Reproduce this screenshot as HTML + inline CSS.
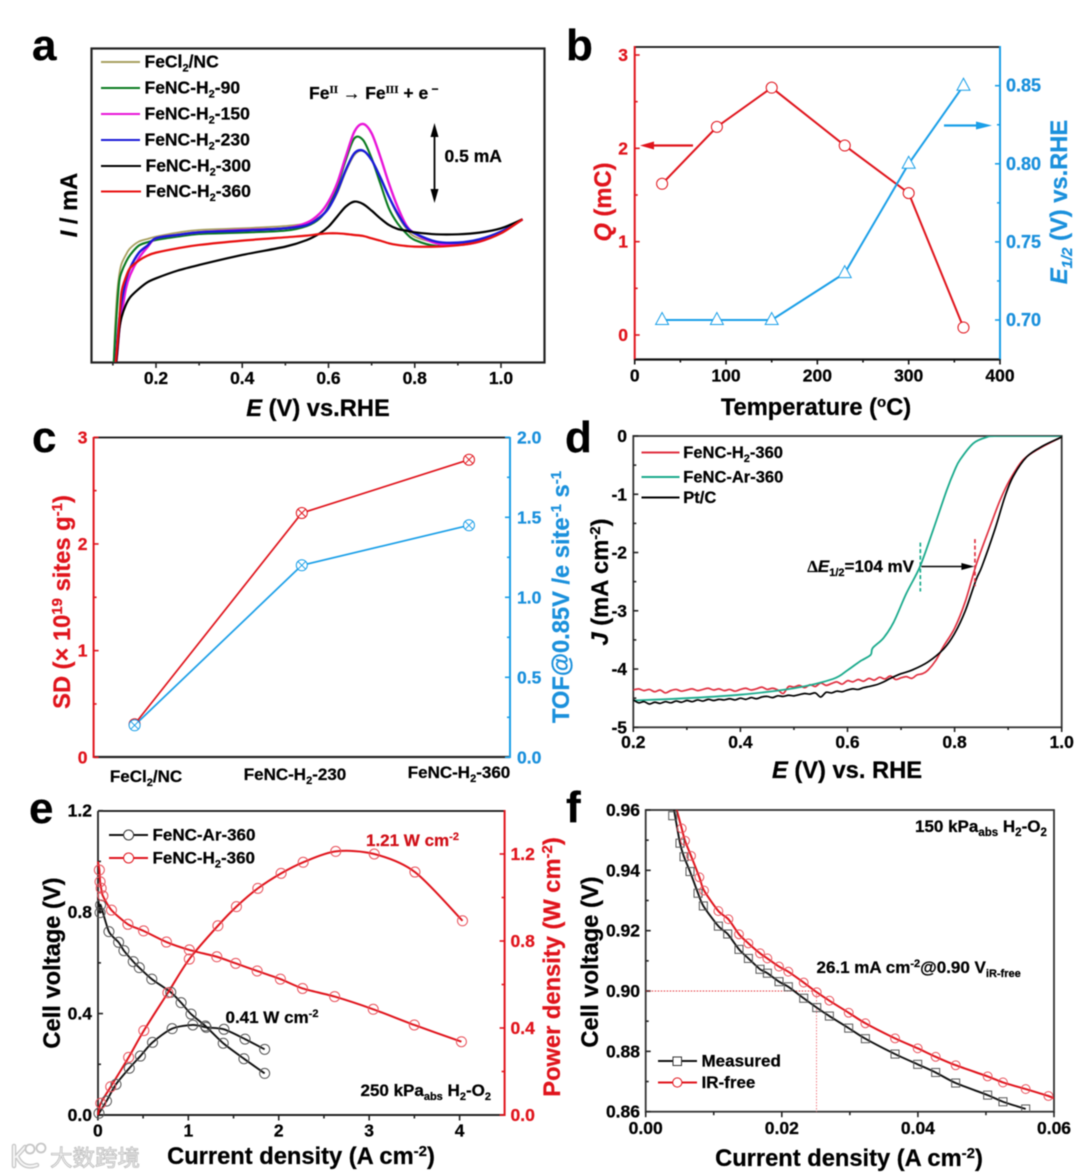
<!DOCTYPE html>
<html lang="en">
<head>
<meta charset="utf-8">
<title>FeNC electrochemical performance figure</title>
<style>
  html,body{margin:0;padding:0;background:#fff;}
  body{width:1080px;height:1176px;overflow:hidden;}
  svg{display:block;filter:blur(0.4px);}
  text{font-family:"Liberation Sans","Noto Sans CJK SC",sans-serif;font-weight:700;stroke:#000;stroke-width:0.25px;}
  .t{font-size:17px;}
  .tk{font-size:17.5px;}
  .lg{font-size:17.5px;}
  .ti{font-size:23.7px;}
  .pl{font-size:44px;}
  .red{fill:#e0141c;stroke:#e0141c;}
  .blue{fill:#1a90dc;stroke:#1a90dc;}
</style>
</head>
<body>
<svg id="fig" xmlns="http://www.w3.org/2000/svg" width="1080" height="1176" viewBox="0 0 1080 1176">
  <rect width="1080" height="1176" fill="#fff"/>
  <defs>
    <clipPath id="ca"><rect x="91" y="48" width="453" height="314"/></clipPath>
    <clipPath id="cd"><rect x="633" y="436" width="429" height="291"/></clipPath>
    <clipPath id="ce"><rect x="90" y="811" width="415" height="310"/></clipPath>
    <clipPath id="cf"><rect x="646" y="810" width="408" height="302"/></clipPath>
  </defs>

  <!-- Panel a -->
  <g id="pa">
    <text class="pl" x="32" y="60">a</text>
    <rect x="91.5" y="48.5" width="453" height="314" fill="none" stroke="#222" stroke-width="2.2"/>
    <g id="pa-ticks"></g>
    <g id="pa-lines" clip-path="url(#ca)"></g>
    <text class="ti" x="318" y="416" text-anchor="middle"><tspan font-style="italic">E</tspan> (V) vs.RHE</text>
    <text class="ti" transform="translate(77,205) rotate(-90)" text-anchor="middle"><tspan font-style="italic">I</tspan> / mA</text>
    <g>
      <line x1="101" x2="140" y1="62" y2="62" stroke="#a8a060" stroke-width="2"/>
      <text class="lg" x="144.5" y="67.5">FeCl<tspan dy="4" font-size="11">2</tspan><tspan dy="-4">/NC</tspan></text>
      <line x1="101" x2="140" y1="88" y2="88" stroke="#0a7a20" stroke-width="2"/>
      <text class="lg" x="144.5" y="93.5">FeNC-H<tspan dy="4" font-size="11">2</tspan><tspan dy="-4">-90</tspan></text>
      <line x1="101" x2="140" y1="114" y2="114" stroke="#e815d8" stroke-width="2"/>
      <text class="lg" x="144.5" y="119.5">FeNC-H<tspan dy="4" font-size="11">2</tspan><tspan dy="-4">-150</tspan></text>
      <line x1="101" x2="140" y1="140" y2="140" stroke="#1a1ad8" stroke-width="2"/>
      <text class="lg" x="144.5" y="145.5">FeNC-H<tspan dy="4" font-size="11">2</tspan><tspan dy="-4">-230</tspan></text>
      <line x1="101" x2="141" y1="166" y2="166" stroke="#000" stroke-width="2"/>
      <text class="lg" x="145.5" y="171.5">FeNC-H<tspan dy="4" font-size="11">2</tspan><tspan dy="-4">-300</tspan></text>
      <line x1="101" x2="141" y1="191.5" y2="191.5" stroke="#e81010" stroke-width="2"/>
      <text class="lg" x="145.5" y="197">FeNC-H<tspan dy="4" font-size="11">2</tspan><tspan dy="-4">-360</tspan></text>
    </g>
    <text class="tk" x="309" y="99">Fe<tspan dy="-6" font-size="11" style="font-family:'Liberation Serif',serif">II</tspan><tspan dy="6"> → Fe</tspan><tspan dy="-6" font-size="11" style="font-family:'Liberation Serif',serif">III</tspan><tspan dy="6"> + e</tspan><tspan dy="-6" font-size="12"> −</tspan></text>
    <g>
      <line x1="434.5" x2="434.5" y1="128" y2="198" stroke="#000" stroke-width="1.8"/>
      <polygon points="434.5,123 430.5,137 438.5,137" fill="#000"/>
      <polygon points="434.5,203 430.5,189 438.5,189" fill="#000"/>
    </g>
    <text class="tk" x="444.5" y="162">0.5 mA</text>
  </g>

  <!-- Panel b -->
  <g id="pb">
    <text class="pl" x="566" y="60">b</text>
    <line x1="634" x2="1000" y1="47" y2="47" stroke="#111" stroke-width="1.8"/>
    <line x1="634" x2="1000" y1="359.5" y2="359.5" stroke="#111" stroke-width="2.2"/>
    <line x1="634.7" x2="634.7" y1="46" y2="360" stroke="#e0141c" stroke-width="2"/>
    <line x1="1000" x2="1000" y1="46" y2="360" stroke="#1a9fe8" stroke-width="2"/>
    <g id="pb-axes"></g>
    <g id="pb-marks"></g>
    <text class="ti" x="816" y="415" text-anchor="middle">Temperature (<tspan dy="-8" font-size="15">o</tspan><tspan dy="8">C)</tspan></text>
    <text class="ti red" transform="translate(611,202) rotate(-90)" text-anchor="middle"><tspan font-style="italic">Q</tspan> (mC)</text>
    <text class="ti blue" transform="translate(1067,202) rotate(-90)" text-anchor="middle"><tspan font-style="italic">E</tspan><tspan dy="5" font-size="15" font-style="italic">1/2</tspan><tspan dy="-5"> (V) vs.RHE</tspan></text>
    <g>
      <line x1="650" x2="693" y1="145.5" y2="145.5" stroke="#e0141c" stroke-width="2.2"/>
      <polygon points="640,145.5 654,141.5 654,149.5" fill="#e0141c"/>
    </g>
    <g>
      <line x1="944" x2="980" y1="125.5" y2="125.5" stroke="#1a9fe8" stroke-width="2.2"/>
      <polygon points="992,125.5 976,121.5 976,129.5" fill="#1a9fe8"/>
    </g>
  </g>

  <!-- Panel c -->
  <g id="pc">
    <text class="pl" x="32" y="452">c</text>
    <line x1="94" x2="510" y1="437.5" y2="437.5" stroke="#111" stroke-width="1.8"/>
    <line x1="94" x2="510" y1="757" y2="757" stroke="#222" stroke-width="2.2"/>
    <line x1="93.6" x2="93.6" y1="437" y2="758" stroke="#e0141c" stroke-width="2"/>
    <line x1="510" x2="510" y1="437" y2="758" stroke="#1a9fe8" stroke-width="2"/>
    <g id="pc-axes"></g>
    <g id="pc-marks"></g>
    <text class="ti red" transform="translate(70,602) rotate(-90)" text-anchor="middle">SD (× 10<tspan dy="-8" font-size="15">19</tspan><tspan dy="8"> sites g</tspan><tspan dy="-8" font-size="15">-1</tspan><tspan dy="8">)</tspan></text>
    <text class="ti blue" transform="translate(569,597) rotate(-90)" text-anchor="middle">TOF@0.85V /e site<tspan dy="-8" font-size="15">-1</tspan><tspan dy="8"> s</tspan><tspan dy="-8" font-size="15">-1</tspan></text>
    <text class="t" x="146" y="782" text-anchor="middle">FeCl<tspan dy="4" font-size="11">2</tspan><tspan dy="-4">/NC</tspan></text>
    <text class="t" x="295" y="780" text-anchor="middle">FeNC-H<tspan dy="4" font-size="11">2</tspan><tspan dy="-4">-230</tspan></text>
    <text class="t" x="459" y="778" text-anchor="middle">FeNC-H<tspan dy="4" font-size="11">2</tspan><tspan dy="-4">-360</tspan></text>
  </g>

  <!-- Panel d -->
  <g id="pd">
    <text class="pl" x="565" y="452">d</text>
    <rect x="633.3" y="436" width="428.4" height="291.3" fill="none" stroke="#333" stroke-width="1.8"/>
    <g id="pd-axes"></g>
    <g id="pd-lines" clip-path="url(#cd)"></g>
    <g id="pd-annot"></g>
    <text class="t" x="914" y="572" text-anchor="end"><tspan style="font-family:'Liberation Serif',serif">Δ</tspan><tspan font-style="italic">E</tspan><tspan dy="4" font-size="11">1/2</tspan><tspan dy="-4">=104 mV</tspan></text>
    <text class="ti" x="847" y="778" text-anchor="middle"><tspan font-style="italic">E</tspan>  (V) vs. RHE</text>
    <text class="ti" transform="translate(608,582) rotate(-90)" text-anchor="middle"><tspan font-style="italic">J</tspan> (mA cm<tspan dy="-8" font-size="15">-2</tspan><tspan dy="8">)</tspan></text>
    <g>
      <line x1="641.5" x2="679.5" y1="452.5" y2="452.5" stroke="#e03040" stroke-width="1.9"/>
      <text class="t" x="683.3" y="458" style="font-size:16.5px">FeNC-H<tspan dy="4" font-size="11">2</tspan><tspan dy="-4">-360</tspan></text>
      <line x1="641.5" x2="679.5" y1="477" y2="477" stroke="#1aaa8c" stroke-width="1.9"/>
      <text class="t" x="683.3" y="482.5" style="font-size:16.5px">FeNC-Ar-360</text>
      <line x1="641.5" x2="679.5" y1="497.5" y2="497.5" stroke="#000" stroke-width="1.9"/>
      <text class="t" x="683.3" y="503" style="font-size:16.5px">Pt/C</text>
    </g>
  </g>

  <!-- Panel e -->
  <g id="pe">
    <text class="pl" x="29" y="823">e</text>
    <line x1="98" x2="505" y1="811" y2="811" stroke="#111" stroke-width="1.8"/>
    <line x1="98" x2="505" y1="1115" y2="1115" stroke="#222" stroke-width="2"/>
    <line x1="98" x2="98" y1="811" y2="1115" stroke="#222" stroke-width="1.8"/>
    <line x1="504.6" x2="504.6" y1="810" y2="1116" stroke="#e0141c" stroke-width="2"/>
    <g id="pe-axes"></g>
    <g id="pe-marks" clip-path="url(#ce)"></g>
    <text class="ti" x="301" y="1164" text-anchor="middle">Current density (A cm<tspan dy="-8" font-size="15">-2</tspan><tspan dy="8">)</tspan></text>
    <text class="ti" transform="translate(60,963) rotate(-90)" text-anchor="middle">Cell voltage (V)</text>
    <text class="ti red" transform="translate(560,967) rotate(-90)" text-anchor="middle">Power density (W cm<tspan dy="-8" font-size="15">-2</tspan><tspan dy="8">)</tspan></text>
    <g>
      <line x1="109" x2="148" y1="835" y2="835" stroke="#111" stroke-width="1.9"/>
      <circle cx="128.6" cy="835" r="5" fill="#fff" stroke="#333" stroke-width="1"/>
      <text class="t" x="152.5" y="840.5">FeNC-Ar-360</text>
      <line x1="109" x2="148" y1="858" y2="858" stroke="#e0141c" stroke-width="1.9"/>
      <circle cx="128.6" cy="858" r="5" fill="#fff" stroke="#e0141c" stroke-width="1"/>
      <text class="t" x="152.5" y="863.5">FeNC-H<tspan dy="4" font-size="11">2</tspan><tspan dy="-4">-360</tspan></text>
    </g>
    <text class="t red" x="366" y="846" style="fill:#d01018;stroke:#d01018">1.21 W cm<tspan dy="-6" font-size="11">-2</tspan></text>
    <text class="t" x="225.5" y="1023">0.41 W cm<tspan dy="-6" font-size="11">-2</tspan></text>
    <text class="t" x="360.5" y="1096">250 kPa<tspan dy="4" font-size="11">abs</tspan><tspan dy="-4"> H</tspan><tspan dy="4" font-size="11">2</tspan><tspan dy="-4">-O</tspan><tspan dy="4" font-size="11">2</tspan></text>
  </g>

  <!-- Panel f -->
  <g id="pf">
    <text class="pl" x="566" y="822">f</text>
    <rect x="645.7" y="810" width="408.3" height="301.7" fill="none" stroke="#333" stroke-width="1.8"/>
    <g id="pf-axes"></g>
    <g id="pf-marks" clip-path="url(#cf)"></g>
    <text class="ti" x="849" y="1166" text-anchor="middle">Current density (A cm<tspan dy="-8" font-size="15">-2</tspan><tspan dy="8">)</tspan></text>
    <text class="ti" transform="translate(598,962) rotate(-90)" text-anchor="middle">Cell voltage (V)</text>
    <g>
      <line x1="658" x2="697" y1="1061" y2="1061" stroke="#111" stroke-width="1.9"/>
      <rect x="673" y="1057" width="8.5" height="8.5" fill="#fff" stroke="#333" stroke-width="1"/>
      <text class="t" x="701.5" y="1066.5">Measured</text>
      <line x1="658" x2="697" y1="1082.5" y2="1082.5" stroke="#e0141c" stroke-width="1.9"/>
      <circle cx="677.3" cy="1082.5" r="4.6" fill="#fff" stroke="#e0141c" stroke-width="1"/>
      <text class="t" x="701.5" y="1088">IR-free</text>
    </g>
    <text class="t" x="915" y="832">150 kPa<tspan dy="4" font-size="11.5">abs</tspan><tspan dy="-4"> H</tspan><tspan dy="4" font-size="11.5">2</tspan><tspan dy="-4">-O</tspan><tspan dy="4" font-size="11.5">2</tspan></text>
    <text class="t" x="816.5" y="973">26.1 mA cm<tspan dy="-6" font-size="11">-2</tspan><tspan dy="6">@0.90 V</tspan><tspan dy="4" font-size="11">iR-free</tspan></text>
  </g>

  <!-- Watermark -->
  <g>
    <path d="M14 1146 L14 1166 M16 1157 L25 1147 M17 1156 Q23 1170 37 1165" fill="none" stroke="#c6c6c6" stroke-width="4.5" stroke-linecap="round"/>
    <path d="M14 1146 L14 1166 M16 1157 L25 1147 M17 1156 Q23 1170 37 1165" fill="none" stroke="#f6f6f6" stroke-width="2" stroke-linecap="round"/>
    <circle cx="30" cy="1149" r="4.5" fill="#fff" stroke="#c6c6c6" stroke-width="1.8"/>
    <circle cx="41" cy="1148" r="4.5" fill="#fff" stroke="#c6c6c6" stroke-width="1.8"/>
    <text x="50" y="1166" font-size="22.5" fill="#f2f2f2" style="stroke:#bdbdbd;stroke-width:0.8px;font-weight:400;font-family:'Liberation Sans','Noto Sans CJK SC',sans-serif">大数跨境</text>
  </g>
</svg>

<script>
/* ---------- Panel a data (current in arbitrary units, no printed y scale) ---------- */
const aE = [0.102,0.105,0.11,0.115,0.12,0.13,0.14,0.16,0.18,0.2,0.25,0.3,0.4,0.5,0.55,0.58,0.6,0.62,0.64,0.66,0.68,0.7,0.72,0.74,0.76,0.78,0.8,0.85,0.9,0.95,1.0,1.05];
const aFeCl2 = [0,100,210,265,295,322,342,362,370,377,389,397,402,409,417,437,462,507,572,622,634,607,557,497,442,402,377,359,359,367,392,429];
const aH90   = [0,67,170,245,270,300,322,350,360,367,377,385,389,395,409,432,467,527,607,672,667,612,537,462,417,387,367,349,355,365,391,429];
const aH150  = [-80,-30,25,100,140,220,262,312,345,372,382,390,397,402,419,447,482,537,617,692,715,687,617,537,467,412,387,357,352,362,389,429];
const aH230  = [-60,-20,60,130,180,245,283,328,350,372,382,390,395,402,412,435,462,512,577,627,635,607,555,497,447,407,387,362,359,369,392,429];
const aH300  = [-80,-40,30,100,135,172,195,220,240,252,275,292,322,347,367,387,407,437,467,482,475,455,432,412,400,395,390,384,384,389,402,429];
const aH360  = [-60,-20,50,127,210,255,283,305,320,329,342,352,365,375,380,385,387,387,385,382,379,372,365,357,352,349,347,347,351,362,387,429];
const aXTicks = [0.2,0.4,0.6,0.8,1.0];
const aXMinor = [0.1,0.3,0.5,0.7,0.9];

/* ---------- Panel b data ---------- */
const bTemp = [30,90,150,230,300,360];
const bQ = [1.62,2.23,2.65,2.03,1.52,0.08];
const bE = [0.70,0.70,0.70,0.73,0.80,0.85];
const bXTicks = [0,100,200,300,400];
const bXMinor = [50,150,250,350];
const bQTicks = [0,1,2,3];
const bQMinor = [0.5,1.5,2.5];
const bETicks = ['0.70','0.75','0.80','0.85'];
const bEMinor = [0.725,0.775,0.825];

/* ---------- Panel c data ---------- */
const cCategories = ['FeCl2/NC','FeNC-H2-230','FeNC-H2-360'];
const cSD = [0.31,2.29,2.79];
const cTOF = [0.20,1.20,1.45];
const cSDTicks = [0,1,2,3];
const cSDMinor = [0.5,1.5,2.5];
const cTOFTicks = ['0.0','0.5','1.0','1.5','2.0'];
const cTOFMinor = [0.25,0.75,1.25,1.75];

/* ---------- Panel d data ---------- */
const dH2E = [0.2,0.21,0.22,0.23,0.24,0.25,0.26,0.27,0.28,0.29,0.3,0.31,0.32,0.33,0.34,0.35,0.36,0.37,0.38,0.39,0.4,0.41,0.42,0.43,0.44,0.45,0.46,0.47,0.48,0.49,0.5,0.51,0.52,0.53,0.54,0.55,0.56,0.57,0.58,0.59,0.6,0.61,0.62,0.63,0.64,0.65,0.66,0.67,0.68,0.69,0.7,0.71,0.72,0.73,0.74,0.75,0.765,0.78,0.8,0.82,0.841,0.866,0.885,0.903,0.928,0.959,0.997,1.0];
const dH2J = [-4.36,-4.34,-4.37,-4.35,-4.39,-4.36,-4.41,-4.37,-4.35,-4.38,-4.36,-4.34,-4.37,-4.35,-4.33,-4.36,-4.34,-4.37,-4.35,-4.38,-4.35,-4.33,-4.36,-4.34,-4.31,-4.35,-4.33,-4.36,-4.42,-4.3,-4.31,-4.28,-4.32,-4.27,-4.3,-4.24,-4.28,-4.25,-4.22,-4.26,-4.2,-4.22,-4.18,-4.21,-4.16,-4.19,-4.14,-4.17,-4.12,-4.18,-4.15,-4.13,-4.16,-4.1,-4.08,-4.02,-3.85,-3.6,-3.3,-2.84,-2.19,-1.56,-1.1,-0.755,-0.41,-0.21,-0.03,-0.01];
const dArE = [0.2,0.3,0.4,0.5,0.573,0.6,0.623,0.643,0.647,0.667,0.686,0.71,0.7354,0.76,0.7853,0.8,0.81,0.835,0.86,0.88,1.0];
const dArJ = [-4.54,-4.5,-4.44,-4.33,-4.17,-4.02,-3.87,-3.76,-3.64,-3.47,-3.2,-2.7,-2.24,-1.61,-0.93,-0.59,-0.41,-0.125,-0.02,0,0];
const dPtE = [0.2,0.21,0.22,0.23,0.24,0.25,0.26,0.27,0.28,0.29,0.3,0.31,0.32,0.33,0.34,0.35,0.36,0.37,0.38,0.39,0.4,0.41,0.42,0.43,0.44,0.45,0.46,0.47,0.48,0.49,0.5,0.51,0.52,0.53,0.54,0.55,0.56,0.57,0.58,0.59,0.6,0.61,0.62,0.63,0.64,0.65,0.66,0.67,0.68,0.7,0.72,0.75,0.78,0.8,0.82,0.84,0.851,0.875,0.894,0.909,0.935,0.965,0.997,1.0];
const dPtJ = [-4.53,-4.58,-4.56,-4.6,-4.57,-4.59,-4.56,-4.58,-4.55,-4.57,-4.54,-4.56,-4.53,-4.55,-4.52,-4.54,-4.52,-4.53,-4.51,-4.53,-4.5,-4.52,-4.49,-4.51,-4.48,-4.47,-4.49,-4.46,-4.47,-4.45,-4.46,-4.44,-4.42,-4.43,-4.41,-4.48,-4.4,-4.41,-4.38,-4.39,-4.36,-4.34,-4.35,-4.32,-4.3,-4.28,-4.25,-4.21,-4.16,-4.08,-4.02,-3.88,-3.65,-3.39,-3.0,-2.47,-2.24,-1.61,-1.04,-0.7,-0.355,-0.17,-0.03,-0.01];
const dXTicks = ['0.2','0.4','0.6','0.8','1.0'];
const dXMinor = [0.3,0.5,0.7,0.9];
const dYTicks = [0,-1,-2,-3,-4,-5];
const dYMinor = [-0.5,-1.5,-2.5,-3.5,-4.5];

/* ---------- Panel e data ---------- */
const eArVJ = [0,0.024,0.03,0.122,0.229,0.288,0.391,0.458,0.596,0.806,0.92,1.03,1.189,1.386,1.615,1.844];
const eArV  = [0.86,0.798,0.828,0.723,0.681,0.648,0.605,0.581,0.536,0.484,0.443,0.398,0.351,0.283,0.222,0.164];
const eArPJ = [0,0.012,0.095,0.2,0.347,0.47,0.604,0.821,1.05,1.197,1.394,1.627,1.844];
const eArP  = [0,0.008,0.064,0.141,0.215,0.271,0.334,0.397,0.414,0.403,0.394,0.349,0.302];
const eH2VJ = [0,0.016,0.024,0.036,0.055,0.15,0.332,0.505,0.758,1.011,1.315,1.524,1.761,2.018,2.263,2.618,3.045,3.499,4.02];
const eH2V  = [1.0,0.966,0.92,0.894,0.864,0.808,0.752,0.726,0.682,0.651,0.624,0.598,0.568,0.536,0.499,0.467,0.417,0.355,0.289];
const eH2PJ = [0,0.032,0.142,0.34,0.508,0.774,1.011,1.327,1.532,1.769,2.026,2.27,2.63,3.056,3.506,4.032];
const eH2P  = [0,0.054,0.13,0.265,0.388,0.562,0.717,0.87,0.958,1.042,1.111,1.162,1.212,1.2,1.117,0.893];
const eXTicks = [0,1,2,3,4];
const eXMinor = [0.5,1.5,2.5,3.5];
const eVTicks = ['0.0','0.4','0.8','1.2'];
const eVMinor = [0.2,0.6,1.0];
const ePTicks = ['0.0','0.4','0.8','1.2'];
const ePMinor = [0.2,0.6,1.0];

/* ---------- Panel f data ---------- */
const fMeasJ = [0.00397,0.00504,0.00563,0.00651,0.00769,0.00847,0.01068,0.01205,0.01371,0.01509,0.0168,0.01788,0.01959,0.02096,0.02322,0.02513,0.02699,0.02983,0.03228,0.03664,0.03997,0.04261,0.04555,0.05025,0.0525,0.05584];
const fMeasV = [0.9581,0.949,0.9445,0.9396,0.9324,0.9282,0.9215,0.9189,0.9138,0.9108,0.9072,0.9059,0.9031,0.9014,0.8976,0.8945,0.8917,0.8877,0.8842,0.8791,0.8757,0.873,0.8695,0.8655,0.8633,0.8609];
const fFreeJ = [0.00529,0.00578,0.00666,0.00789,0.00857,0.01068,0.01215,0.01371,0.01509,0.0168,0.01788,0.01959,0.02096,0.02322,0.02513,0.02699,0.02983,0.03228,0.03664,0.03997,0.04261,0.04555,0.05025,0.0525,0.05584,0.05918];
const fFreeV = [0.9539,0.9498,0.9448,0.9377,0.9333,0.9265,0.9238,0.9188,0.9158,0.9125,0.9108,0.9081,0.9064,0.9028,0.8996,0.8968,0.8928,0.8893,0.8843,0.881,0.8782,0.8754,0.8717,0.8697,0.8675,0.8652];
const fXTicks = ['0.00','0.02','0.04','0.06'];
const fXMinor = [0.01,0.03,0.05];
const fYTicks = ['0.86','0.88','0.90','0.92','0.94','0.96'];
const fYMinor = [0.87,0.89,0.91,0.93,0.95];
const fRefV = 0.90;
const fRefJ = 0.0251;

const SVGNS = 'http://www.w3.org/2000/svg';
const RED = '#e0141c', BLUE = '#1a9fe8', BLUETXT = '#1a90dc';

function add(parent, tag, attrs, name) {
  const el = document.createElementNS(SVGNS, tag);
  for (const k in attrs) el.setAttribute(k, attrs[k]);
  
  
  parent.appendChild(el);
  return el;
}
function scale(d0, d1, r0, r1) { return v => r0 + (v - d0) / (d1 - d0) * (r1 - r0); }
function smooth(xs, ys, X, Y, k) {
  const p = xs.map((x, i) => [X(x), Y(ys[i])]);
  const t = k === undefined ? 0.16 : k;
  let d = 'M' + p[0][0].toFixed(2) + ' ' + p[0][1].toFixed(2);
  for (let i = 0; i < p.length - 1; i++) {
    const a = p[Math.max(i - 1, 0)], b = p[i], c = p[i + 1], e = p[Math.min(i + 2, p.length - 1)];
    d += 'C' + (b[0] + (c[0] - a[0]) * t).toFixed(2) + ' ' + (b[1] + (c[1] - a[1]) * t).toFixed(2) + ' ' +
         (c[0] - (e[0] - b[0]) * t).toFixed(2) + ' ' + (c[1] - (e[1] - b[1]) * t).toFixed(2) + ' ' +
         c[0].toFixed(2) + ' ' + c[1].toFixed(2);
  }
  return d;
}
function poly(xs, ys, X, Y) { return xs.map((x, i) => X(x).toFixed(2) + ',' + Y(ys[i]).toFixed(2)).join(' '); }
function line(g, xs, ys, X, Y, color, width, name, k) {
  return add(g, 'path', { d: smooth(xs, ys, X, Y, k), fill: 'none', stroke: color, 'stroke-width': width, 'stroke-linejoin': 'round' }, name);
}
function vTicks(g, vals, X, y0, len, color, name) {
  vals.forEach(v => { add(g, 'line', { x1: X(+v), x2: X(+v), y1: y0, y2: y0 + len, stroke: color, 'stroke-width': 1.6 }, name); });
}
function hTicks(g, vals, Y, x0, len, color, name) {
  vals.forEach(v => { add(g, 'line', { y1: Y(+v), y2: Y(+v), x1: x0, x2: x0 + len, stroke: color, 'stroke-width': 1.6 }, name); });
}
function labelsX(g, vals, X, y, name) {
  vals.forEach(v => { add(g, 'text', { x: X(+v), y: y, 'text-anchor': 'middle', class: 'tk' }, name).textContent = v; });
}
function labelsY(g, vals, Y, x, anchor, color, name, size) {
  vals.forEach(v => { add(g, 'text', { x: x, y: Y(+v) + 6, 'text-anchor': anchor, class: 'tk', style: 'fill:' + color + ';stroke:' + color + (size ? ';font-size:' + size + 'px' : '') }, name).textContent = v; });
}
function circles(g, xs, ys, X, Y, r, color, fill, name) {
  xs.forEach((x, i) => { add(g, 'circle', { cx: X(x), cy: Y(ys[i]), r: r, fill: fill, stroke: color, 'stroke-width': 1 }, name); });
}

/* ===== Panel a ===== */
(function () {
  const X = scale(0.2, 1.0, 156, 501);
  const Y = scale(0, 942, 362.3, 48.3);
  const tg = document.getElementById('pa-ticks');
  vTicks(tg, aXTicks, X, 362, 6, '#222', 'x-major-tick-a');
  vTicks(tg, aXMinor, X, 362, 3.5, '#222', 'x-minor-tick-a');
  labelsX(tg, aXTicks.map(v => v.toFixed(1)), X, 384, 'x-tick-label-a');
  const g = document.getElementById('pa-lines');
  line(g, aE, aFeCl2, X, Y, '#a8a060', 1.8, 'curve-fecl2');
  line(g, aE, aH90, X, Y, '#0a7a20', 2.1, 'curve-h2-90');
  line(g, aE, aH150, X, Y, '#e815d8', 2.4, 'curve-h2-150');
  line(g, aE, aH230, X, Y, '#1a1ad8', 2.4, 'curve-h2-230');
  line(g, aE, aH300, X, Y, '#000', 2.2, 'curve-h2-300');
  line(g, aE, aH360, X, Y, '#e81010', 2.2, 'curve-h2-360');
})();

/* ===== Panel b ===== */
(function () {
  const X = scale(0, 400, 634.7, 1000);
  const YQ = scale(0, 3, 335, 55);
  const YE = scale(0.70, 0.85, 320, 85.7);
  const a = document.getElementById('pb-axes');
  vTicks(a, bXTicks, X, 359, 5.5, '#111', 'x-major-tick-b');
  vTicks(a, bXMinor, X, 359, 3.5, '#111', 'x-minor-tick-b');
  labelsX(a, bXTicks.map(String), X, 381.5, 'x-tick-label-b');
  hTicks(a, bQTicks, YQ, 634.7, 5, RED, 'left-major-tick-b');
  hTicks(a, bQMinor, YQ, 634.7, 3, RED, 'left-minor-tick-b');
  labelsY(a, bQTicks.map(String), YQ, 628, 'end', '#e0141c', 'left-tick-label-b');
  hTicks(a, bETicks, YE, 1000, -5, BLUE, 'right-major-tick-b');
  hTicks(a, bEMinor, YE, 1000, -3, BLUE, 'right-minor-tick-b');
  labelsY(a, bETicks, YE, 1006, 'start', BLUETXT, 'right-tick-label-b', 18);
  const g = document.getElementById('pb-marks');
  add(g, 'polyline', { points: poly(bTemp, bQ, X, YQ), fill: 'none', stroke: RED, 'stroke-width': 2 }, 'series-q-line');
  add(g, 'polyline', { points: poly(bTemp, bE, X, YE), fill: 'none', stroke: BLUE, 'stroke-width': 2 }, 'series-e12-line');
  circles(g, bTemp, bQ, X, YQ, 5.5, RED, '#fff', 'q-point');
  bTemp.forEach((t, i) => {
    const cx = X(t), cy = YE(bE[i]);
    add(g, 'polygon', { points: cx + ',' + (cy - 7.5) + ' ' + (cx - 6.5) + ',' + (cy + 4.5) + ' ' + (cx + 6.5) + ',' + (cy + 4.5), fill: '#fff', stroke: BLUE, 'stroke-width': 1 }, 'e12-point');
  });
})();

/* ===== Panel c ===== */
(function () {
  const X = scale(0, 2, 134.6, 469);
  const YL = scale(0, 3, 757.3, 437.3);
  const YR = scale(0, 2, 757.3, 437.3);
  const idx = cCategories.map((c, i) => i);
  const a = document.getElementById('pc-axes');
  hTicks(a, cSDTicks, YL, 93.6, 5, RED, 'left-major-tick-c');
  hTicks(a, cSDMinor, YL, 93.6, 3, RED, 'left-minor-tick-c');
  labelsY(a, cSDTicks.map(String), YL, 87.5, 'end', '#e0141c', 'left-tick-label-c');
  hTicks(a, cTOFTicks, YR, 510, -5, BLUE, 'right-major-tick-c');
  hTicks(a, cTOFMinor, YR, 510, -3, BLUE, 'right-minor-tick-c');
  labelsY(a, cTOFTicks, YR, 517, 'start', BLUETXT, 'right-tick-label-c');
  const g = document.getElementById('pc-marks');
  add(g, 'polyline', { points: poly(idx, cSD, X, YL), fill: 'none', stroke: RED, 'stroke-width': 1.7 }, 'series-sd-line');
  add(g, 'polyline', { points: poly(idx, cTOF, X, YR), fill: 'none', stroke: BLUE, 'stroke-width': 1.7 }, 'series-tof-line');
  function cross(vals, Y, color, name) {
    idx.forEach(i => {
      const cx = X(i), cy = Y(vals[i]);
      const m = add(g, 'g', {}, name);
      add(m, 'circle', { cx: cx, cy: cy, r: 5.5, fill: '#fff', stroke: color, 'stroke-width': 1 }, name + '-ring');
      add(m, 'path', { d: 'M' + (cx - 4) + ' ' + (cy - 4) + 'L' + (cx + 4) + ' ' + (cy + 4) + 'M' + (cx + 4) + ' ' + (cy - 4) + 'L' + (cx - 4) + ' ' + (cy + 4), stroke: color, 'stroke-width': 1, fill: 'none' }, name + '-cross');
    });
  }
  cross(cSD, YL, RED, 'sd-point');
  cross(cTOF, YR, BLUE, 'tof-point');
})();

/* ===== Panel d ===== */
(function () {
  const X = scale(0.2, 1.0, 633.3, 1061.7);
  const Y = scale(0, -5, 436, 727.3);
  const a = document.getElementById('pd-axes');
  vTicks(a, dXTicks, X, 727, 5, '#222', 'x-major-tick-d');
  vTicks(a, dXMinor, X, 727, 3, '#222', 'x-minor-tick-d');
  labelsX(a, dXTicks, X, 748, 'x-tick-label-d');
  hTicks(a, dYTicks, Y, 633.3, 5, '#222', 'y-major-tick-d');
  hTicks(a, dYMinor, Y, 633.3, 3, '#222', 'y-minor-tick-d');
  labelsY(a, dYTicks.map(String), Y, 627, 'end', '#000', 'y-tick-label-d');
  const g = document.getElementById('pd-lines');
  line(g, dH2E, dH2J, X, Y, '#e03040', 1.7, 'curve-fenc-h2-360');
  line(g, dArE, dArJ, X, Y, '#1aaa8c', 1.8, 'curve-fenc-ar-360');
  line(g, dPtE, dPtJ, X, Y, '#000', 1.7, 'curve-pt-c');
  const n = document.getElementById('pd-annot');
  add(n, 'line', { x1: X(0.736), x2: X(0.736), y1: Y(-1.83), y2: Y(-2.67), stroke: '#1aaa8c', 'stroke-width': 1.7, 'stroke-dasharray': '4 2.5' }, 'half-wave-marker-ar');
  add(n, 'line', { x1: X(0.838), x2: X(0.838), y1: Y(-1.77), y2: Y(-2.58), stroke: '#e03040', 'stroke-width': 1.7, 'stroke-dasharray': '4 2.5' }, 'half-wave-marker-h2');
  add(n, 'line', { x1: X(0.738), x2: X(0.825), y1: Y(-2.24), y2: Y(-2.24), stroke: '#000', 'stroke-width': 1.6 }, 'delta-arrow-shaft');
  const ax = X(0.837), ay = Y(-2.24);
  add(n, 'polygon', { points: ax + ',' + ay + ' ' + (ax - 13) + ',' + (ay - 3.5) + ' ' + (ax - 13) + ',' + (ay + 3.5), fill: '#000' }, 'delta-arrow-head');
})();

/* ===== Panel e ===== */
(function () {
  const X = scale(0, 4, 97.9, 459.6);
  const YV = scale(0, 1.2, 1115, 810.7);
  const YP = scale(0, 1.2, 1115, 854);
  const a = document.getElementById('pe-axes');
  vTicks(a, eXTicks, X, 1115, 5.5, '#222', 'x-major-tick-e');
  vTicks(a, eXMinor, X, 1115, 3.5, '#222', 'x-minor-tick-e');
  labelsX(a, eXTicks.map(String), X, 1136.5, 'x-tick-label-e');
  hTicks(a, eVTicks, YV, 98, 5, '#222', 'left-major-tick-e');
  hTicks(a, eVMinor, YV, 98, 3, '#222', 'left-minor-tick-e');
  labelsY(a, eVTicks, YV, 92, 'end', '#000', 'left-tick-label-e');
  hTicks(a, ePTicks, YP, 504.6, -5, RED, 'right-major-tick-e');
  hTicks(a, ePMinor, YP, 504.6, -3, RED, 'right-minor-tick-e');
  labelsY(a, ePTicks, YP, 510.5, 'start', '#e0141c', 'right-tick-label-e');
  const g = document.getElementById('pe-marks');
  line(g, eArVJ, eArV, X, YV, '#111', 1.9, 'curve-ar-voltage', 0.12);
  line(g, eArPJ, eArP, X, YP, '#111', 1.9, 'curve-ar-power', 0.14);
  line(g, eH2VJ, eH2V, X, YV, RED, 2, 'curve-h2-voltage', 0.12);
  line(g, eH2PJ, eH2P, X, YP, RED, 2, 'curve-h2-power', 0.15);
  circles(g, eArVJ.slice(1), eArV.slice(1), X, YV, 5, '#555', 'none', 'ar-voltage-point');
  circles(g, eArPJ.slice(1), eArP.slice(1), X, YP, 5, '#555', 'none', 'ar-power-point');
  circles(g, eH2VJ.slice(1), eH2V.slice(1), X, YV, 5, '#e8505a', 'none', 'h2-voltage-point');
  circles(g, eH2PJ.slice(1), eH2P.slice(1), X, YP, 5, '#e8505a', 'none', 'h2-power-point');
})();

/* ===== Panel f ===== */
(function () {
  const X = scale(0, 0.06, 645.7, 1054);
  const Y = scale(0.96, 0.86, 810, 1111.7);
  const a = document.getElementById('pf-axes');
  vTicks(a, fXTicks, X, 1111.7, 5.5, '#222', 'x-major-tick-f');
  vTicks(a, fXMinor, X, 1111.7, 3.5, '#222', 'x-minor-tick-f');
  labelsX(a, fXTicks, X, 1134, 'x-tick-label-f');
  hTicks(a, fYTicks, Y, 645.7, 5, '#222', 'y-major-tick-f');
  hTicks(a, fYMinor, Y, 645.7, 3, '#222', 'y-minor-tick-f');
  labelsY(a, fYTicks, Y, 640, 'end', '#000', 'y-tick-label-f');
  const g = document.getElementById('pf-marks');
  add(g, 'line', { x1: X(0), x2: X(fRefJ), y1: Y(fRefV), y2: Y(fRefV), stroke: '#e0141c', 'stroke-width': 0.9, 'stroke-dasharray': '1.5 1.5' }, 'reference-line-voltage');
  add(g, 'line', { x1: X(fRefJ), x2: X(fRefJ), y1: Y(fRefV), y2: Y(0.86), stroke: '#f07078', 'stroke-width': 0.9, 'stroke-dasharray': '1.5 1.5' }, 'reference-line-current');
  line(g, [0.00416].concat(fMeasJ.slice(1)), [0.96].concat(fMeasV.slice(1)), X, Y, '#111', 1.9, 'curve-measured', 0.13);
  line(g, [0.00456].concat(fFreeJ).concat([0.06]), [0.96].concat(fFreeV).concat([0.8644]), X, Y, RED, 2, 'curve-ir-free', 0.13);
  fMeasJ.forEach((j, i) => {
    add(g, 'rect', { x: X(j) - 4, y: Y(fMeasV[i]) - 4, width: 8, height: 8, fill: 'none', stroke: '#555', 'stroke-width': 1 }, 'measured-point');
  });
  circles(g, fFreeJ, fFreeV, X, Y, 4.4, '#e8505a', 'none', 'ir-free-point');
})();
</script>
</body>
</html>
